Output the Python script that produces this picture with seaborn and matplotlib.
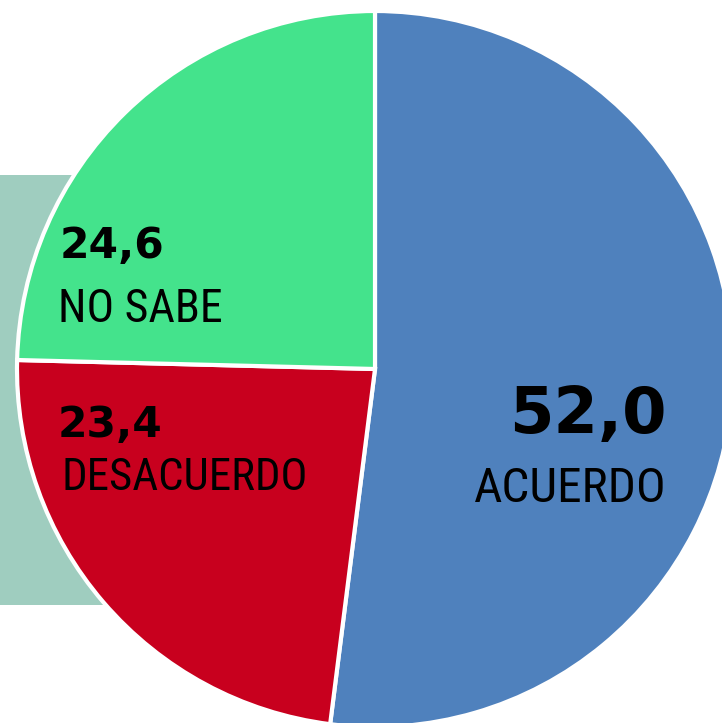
import matplotlib
matplotlib.use('Agg')
import matplotlib.pyplot as plt
import matplotlib.patches as mpatches
import seaborn as sns

# Datos de la encuesta
categorias = ['ACUERDO', 'DESACUERDO', 'NO SABE']
valores = [52.0, 23.4, 24.6]
etiquetas_valor = ['52,0', '23,4', '24,6']
colores = ['#4f81bd', '#c8001e', '#44e38c']

sns.set_theme(style='white')
plt.rcParams['font.family'] = ['DejaVu Sans']

fig = plt.figure(figsize=(7.22, 7.23), dpi=100)
ax = fig.add_axes([0, 0, 1, 1])

# escala: centro en (375, 369) px, radio 358 px
cx, cy, r = 375, 369, 358
def px(x, y):
    return (x - cx) / r, (cy - y) / r

ax.pie(valores, colors=colores, startangle=90, counterclock=False,
       radius=1, center=(0, 0),
       wedgeprops=dict(edgecolor='white', linewidth=3))

# rectangulo de fondo
x0, y0 = px(0, 605)
x1, y1 = px(220, 175)
ax.add_patch(mpatches.Rectangle((x0, y0), x1 - x0, y1 - y0,
                                facecolor='#9fcdbf', edgecolor='none', zorder=0))

narrow = ['Roboto Condensed', 'Sofia Sans Condensed', 'Archivo Narrow', 'DejaVu Sans']
negrita = ['DejaVu Sans']

# NO SABE
ax.text(*px(60, 258), etiquetas_valor[2], fontsize=30.5, fontweight='bold', family=negrita,
        ha='left', va='baseline', color='black')
ax.text(*px(58, 322), categorias[2], fontsize=33, family=narrow,
        ha='left', va='baseline', color='black')
# DESACUERDO
ax.text(*px(58, 437), etiquetas_valor[1], fontsize=30.5, fontweight='bold', family=negrita,
        ha='left', va='baseline', color='black')
ax.text(*px(62, 490), categorias[1], fontsize=32.3, family=narrow,
        ha='left', va='baseline', color='black')
# ACUERDO
ax.text(*px(667, 433), etiquetas_valor[0], fontsize=46, fontweight='bold', family=negrita,
        ha='right', va='baseline', color='black')
ax.text(*px(667, 502), categorias[0], fontsize=35.6, family=narrow,
        ha='right', va='baseline', color='black')

xl, yt = px(0, 0)
xr, yb = px(722, 723)
ax.set_aspect('auto')
ax.set_xlim(xl, xr)
ax.set_ylim(yb, yt)
ax.axis('off')

fig.savefig('out.png', dpi=100, facecolor='white')
